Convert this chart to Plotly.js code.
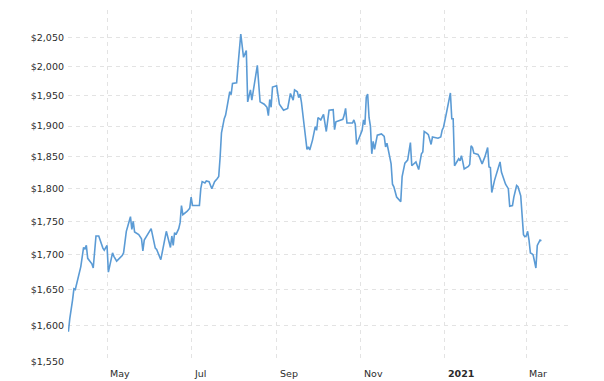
<!DOCTYPE html>
<html>
<head>
<meta charset="utf-8">
<script src="https://cdn.plot.ly/plotly-3.0.1.min.js"></script>
<style>
html,body{margin:0;padding:0;background:#fff;}
#chart{width:604px;height:381px;}
</style>
</head>
<body>
<div id="chart"></div>
<script>
// Gold price (USD/oz), daily, Apr 2020 – Mar 2021
const dates = [
'2020-04-03','2020-04-04','2020-04-06','2020-04-07','2020-04-08','2020-04-12','2020-04-14','2020-04-15','2020-04-16','2020-04-17',
'2020-04-20','2020-04-21','2020-04-23','2020-04-25','2020-04-28','2020-04-29','2020-05-01','2020-05-02','2020-05-05','2020-05-06',
'2020-05-08','2020-05-12','2020-05-13','2020-05-15','2020-05-18','2020-05-19','2020-05-20','2020-05-21','2020-05-24','2020-05-26',
'2020-05-27','2020-05-28','2020-06-02','2020-06-05','2020-06-06','2020-06-09','2020-06-13','2020-06-14','2020-06-16','2020-06-17',
'2020-06-18','2020-06-19','2020-06-20','2020-06-22','2020-06-23','2020-06-24','2020-06-25','2020-06-28','2020-06-30','2020-07-01',
'2020-07-02','2020-07-07','2020-07-08','2020-07-09','2020-07-11','2020-07-12','2020-07-14','2020-07-16','2020-07-18','2020-07-20',
'2020-07-21','2020-07-22','2020-07-23','2020-07-25','2020-07-26','2020-07-29','2020-07-30','2020-07-31','2020-08-03','2020-08-04',
'2020-08-06','2020-08-08','2020-08-10','2020-08-11','2020-08-13','2020-08-14','2020-08-18','2020-08-20','2020-08-23','2020-08-25',
'2020-08-26','2020-08-27','2020-08-28','2020-08-29','2020-09-01','2020-09-03','2020-09-06','2020-09-09','2020-09-10','2020-09-11',
'2020-09-13','2020-09-14','2020-09-16','2020-09-17','2020-09-18','2020-09-19','2020-09-21','2020-09-22','2020-09-23','2020-09-24',
'2020-09-25','2020-09-27','2020-09-29','2020-09-30','2020-10-01','2020-10-03','2020-10-04','2020-10-05','2020-10-07','2020-10-09',
'2020-10-12','2020-10-13','2020-10-14','2020-10-17','2020-10-19','2020-10-20','2020-10-21','2020-10-22','2020-10-26','2020-10-27',
'2020-10-28','2020-10-29','2020-10-31','2020-11-02','2020-11-03','2020-11-04','2020-11-05','2020-11-06','2020-11-07','2020-11-08',
'2020-11-09','2020-11-10','2020-11-11','2020-11-13','2020-11-16','2020-11-18','2020-11-19','2020-11-20','2020-11-22','2020-11-23',
'2020-11-24','2020-11-25','2020-11-27','2020-11-29','2020-11-30','2020-12-01','2020-12-03','2020-12-05','2020-12-07','2020-12-08',
'2020-12-11','2020-12-13','2020-12-15','2020-12-16','2020-12-17','2020-12-19','2020-12-20','2020-12-22','2020-12-23','2020-12-27',
'2020-12-29','2020-12-30','2020-12-31','2021-01-02','2021-01-04','2021-01-05','2021-01-06','2021-01-07','2021-01-08','2021-01-10',
'2021-01-11','2021-01-12','2021-01-13','2021-01-14','2021-01-15','2021-01-18','2021-01-19','2021-01-20','2021-01-21','2021-01-22',
'2021-01-25','2021-01-26','2021-01-28','2021-01-30','2021-02-01','2021-02-02','2021-02-03','2021-02-04','2021-02-06','2021-02-10',
'2021-02-11','2021-02-14','2021-02-16','2021-02-17','2021-02-19','2021-02-20','2021-02-22','2021-02-23','2021-02-25','2021-02-27',
'2021-02-28','2021-03-01','2021-03-02','2021-03-03','2021-03-04','2021-03-05','2021-03-06','2021-03-08','2021-03-09','2021-03-11',
'2021-03-12'
];
const prices = [
1591,1609,1635,1651,1650,1683,1711,1709,1714,1695,
1687,1681,1728,1728,1710,1707,1714,1675,1703,1698,
1691,1699,1703,1735,1757,1738,1750,1734,1730,1724,
1706,1722,1739,1710,1708,1693,1735,1728,1711,1728,
1714,1733,1730,1739,1748,1774,1760,1765,1770,1787,
1774,1774,1800,1811,1809,1812,1811,1800,1811,1816,
1819,1849,1889,1912,1918,1957,1952,1971,1972,2002,
2057,2016,2028,1940,1960,1943,2002,1940,1936,1931,
1917,1944,1931,1965,1967,1936,1926,1929,1941,1954,
1943,1960,1957,1947,1953,1939,1900,1875,1862,1866,
1861,1877,1899,1893,1914,1910,1914,1919,1891,1926,
1927,1894,1907,1910,1911,1918,1929,1905,1905,1910,
1903,1870,1882,1893,1910,1902,1948,1953,1914,1900,
1855,1875,1862,1885,1887,1883,1866,1872,1850,1839,
1807,1803,1787,1782,1780,1819,1840,1845,1873,1836,
1842,1830,1855,1858,1891,1888,1886,1870,1882,1880,
1882,1893,1898,1920,1941,1955,1912,1912,1836,1845,
1847,1844,1852,1842,1831,1835,1838,1868,1865,1856,
1854,1850,1839,1850,1865,1834,1833,1794,1813,1842,
1826,1807,1800,1773,1774,1787,1805,1803,1789,1730,
1727,1728,1735,1722,1703,1702,1700,1681,1714,1722,
1721
];
const yTickVals = [1550,1600,1650,1700,1750,1800,1850,1900,1950,2000,2050];
const yTickText = ['$1,550','$1,600','$1,650','$1,700','$1,750','$1,800','$1,850','$1,900','$1,950','$2,000','$2,050'];
const xTickVals = ['2020-05-01','2020-07-01','2020-09-01','2020-11-01','2021-01-01','2021-03-01'];
const xTickText = ['May','Jul','Sep','Nov','<b>2021</b>','Mar'];

const FONT = 'DejaVu Sans, Verdana, sans-serif';
const annotations = xTickVals.map((d,i)=>({
  x: d, xref:'x', y:0, yref:'paper', yanchor:'top', xanchor:'left',
  xshift: 1, yshift: -4, showarrow:false, text: xTickText[i],
  font:{family:FONT, size:9.5, color:'#2b2b2b'}
}));

const trace = {
  x: dates, y: prices, type:'scatter', mode:'lines',
  line:{color:'#5b9bd5', width:1.6}, hoverinfo:'skip'
};
const layout = {
  width:604, height:381,
  margin:{l:68, r:35, t:10, b:19, pad:0},
  paper_bgcolor:'#fff', plot_bgcolor:'#fff',
  showlegend:false,
  xaxis:{
    type:'date', range:['2020-04-02 17:00','2021-04-01'],
    tickvals:xTickVals, showticklabels:false,
    showgrid:true, gridcolor:'#e3e3e3', griddash:'4px,4px', gridwidth:1,
    zeroline:false, showline:false, ticks:''
  },
  yaxis:{
    type:'log', range:[Math.log10(1550), Math.log10(2100)],
    tickvals:yTickVals, ticktext:yTickText,
    showgrid:true, gridcolor:'#e3e3e3', griddash:'4px,4px', gridwidth:1,
    zeroline:false, showline:false, ticks:'',
    tickfont:{family:FONT, size:9.5, color:'#2b2b2b'}, ticklabelstandoff:3
  },
  annotations: annotations
};
Plotly.newPlot('chart',[trace],layout,{displayModeBar:false, staticPlot:true});
</script>
</body>
</html>
